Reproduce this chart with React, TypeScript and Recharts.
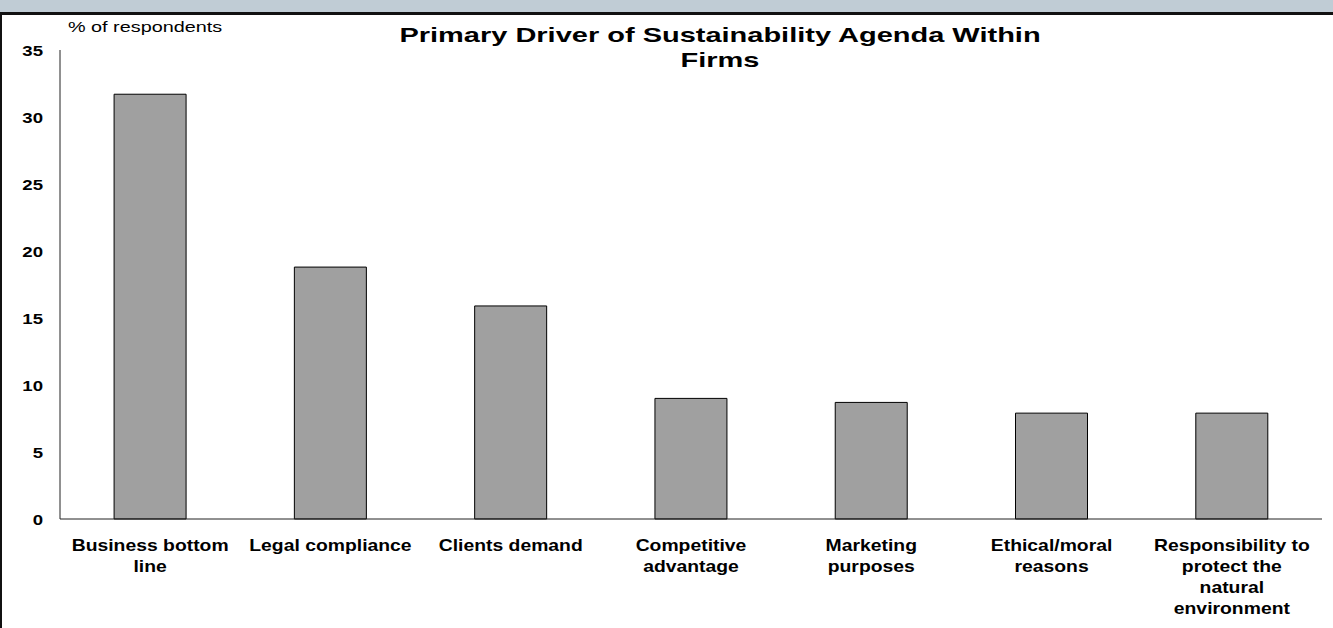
import React from 'react';
import { BarChart, Bar, XAxis, YAxis } from 'recharts';

// category names (\n marks where the label wraps)
const drivers = [
  'Business bottom\nline',
  'Legal compliance',
  'Clients demand',
  'Competitive\nadvantage',
  'Marketing\npurposes',
  'Ethical/moral\nreasons',
  'Responsibility to\nprotect the\nnatural\nenvironment',
];
const shares = [31.7, 18.8, 15.9, 9.0, 8.7, 7.9, 7.9];
const yTicks = [0, 5, 10, 15, 20, 25, 30, 35];

const data = drivers.map((name, i) => ({ name, value: shares[i] }));

const FONT = '"Liberation Sans", Arial, sans-serif';

const XTick = (props: any) => {
  const { x, y, payload } = props;
  const lines = String(payload.value).split('\n');
  return (
    <g transform={`translate(${x},${y}) scale(1.21,1)`}>
      <text textAnchor="middle" fontFamily={FONT} fontWeight="bold" fontSize={16} fill="#000">
        {lines.map((l, i) => (
          <tspan key={i} x={0} dy={i === 0 ? 26 : 21}>{l}</tspan>
        ))}
      </text>
    </g>
  );
};

const YTick = (props: any) => {
  const { y, payload } = props;
  return (
    <g transform={`translate(43,${y}) scale(1.2,1)`}>
      <text textAnchor="end" dy={5.5} fontFamily={FONT} fontWeight="bold" fontSize={15.5} fill="#000">
        {payload.value}
      </text>
    </g>
  );
};

const App = () => {
  return (
    <div style={{ position: 'absolute', left: 0, top: 0, width: 1333, height: 628, background: '#fff', overflow: 'hidden' }}>
      <div style={{ position: 'absolute', left: 0, top: 0, width: 1333, height: 12, background: '#c0ccd5' }} />
      <div style={{ position: 'absolute', left: 0, top: 12, width: 1333, height: 3, background: '#111' }} />
      <div style={{ position: 'absolute', left: 0, top: 12, width: 2, height: 616, background: '#111' }} />

      <BarChart
        width={1333}
        height={628}
        data={data}
        margin={{ top: 50, right: 11, left: 0, bottom: 0 }}
        barCategoryGap="30%"
        style={{ position: 'absolute', left: 0, top: 0 }}
      >
        <XAxis
          dataKey="name"
          height={109}
          interval={0}
          tickLine={false}
          axisLine={{ stroke: '#222' }}
          tick={<XTick />}
          tickMargin={0}
        />
        <YAxis
          width={60}
          domain={[0, 35]}
          ticks={yTicks}
          interval={0}
          tickLine={false}
          axisLine={{ stroke: '#222' }}
          tick={<YTick />}
        />
        <Bar dataKey="value" fill="#a0a0a0" stroke="#000" strokeWidth={1} isAnimationActive={false} />
      </BarChart>

      <div
        style={{
          position: 'absolute', left: 68, top: 18, fontFamily: FONT, fontSize: 15, color: '#000',
          transform: 'scaleX(1.32)', transformOrigin: 'left top', whiteSpace: 'nowrap',
        }}
      >
        % of respondents
      </div>
      <div
        style={{
          position: 'absolute', left: 420, top: 22, width: 600, textAlign: 'center', fontFamily: FONT,
          fontSize: 21, fontWeight: 'bold', color: '#000', lineHeight: '25px',
          transform: 'scaleX(1.38)', transformOrigin: 'center top',
        }}
      >
        Primary Driver of Sustainability Agenda Within
        <br />
        Firms
      </div>
    </div>
  );
};

export default App;
